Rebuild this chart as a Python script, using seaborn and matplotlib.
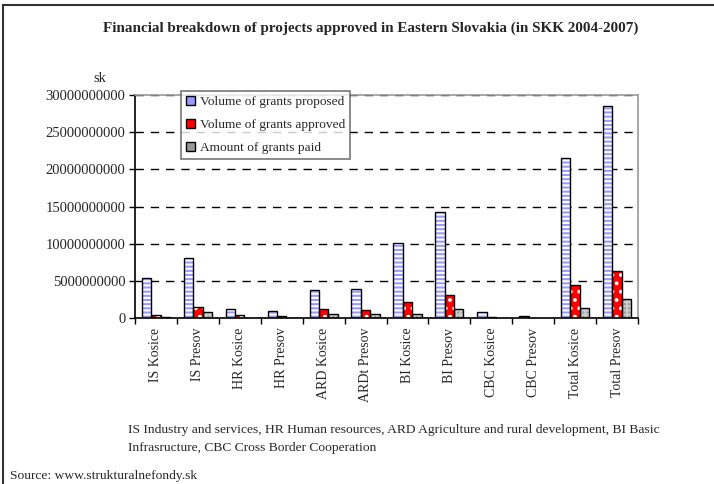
import pandas as pd
import seaborn as sns
import matplotlib.pyplot as plt
from matplotlib.patches import Patch, Rectangle
from matplotlib.ticker import MultipleLocator, FixedLocator

categories = ['IS Kosice', 'IS Presov', 'HR Kosice', 'HR Presov', 'ARD Kosice', 'ARDt Presov',
              'BI Kosice', 'BI Presov', 'CBC Kosice', 'CBC Presov', 'Total Kosice', 'Total Presov']
proposed = [5.35e9, 8.08e9, 1.27e9, 1.0e9, 3.72e9, 3.9e9, 10.08e9, 14.2e9, 0.8e9, 0.3e9, 21.5e9, 28.5e9]
approved = [0.45e9, 1.45e9, 0.45e9, 0.3e9, 1.27e9, 1.13e9, 2.13e9, 3.05e9, 0.1e9, 0.0, 4.5e9, 6.35e9]
paid = [0.1e9, 0.8e9, 0.0, 0.0, 0.5e9, 0.5e9, 0.5e9, 1.16e9, 0.0, 0.0, 1.35e9, 2.6e9]
series = ['Volume of grants proposed', 'Volume of grants approved', 'Amount of grants paid']

sns.set_style('white')
plt.rcParams['font.family'] = ['Liberation Serif', 'DejaVu Serif']
plt.rcParams['hatch.linewidth'] = 1.5

df = pd.DataFrame({
    'category': categories * 3,
    'series': [series[0]] * 12 + [series[1]] * 12 + [series[2]] * 12,
    'value': proposed + approved + paid,
})

face = {series[0]: '#9999FF', series[1]: '#FF0000', series[2]: '#999999'}
hatch_col = {series[0]: 'white', series[1]: 'white', series[2]: '#CCCCCC'}
hatches = {series[0]: '----', series[1]: '..', series[2]: '++++'}

fig = plt.figure(figsize=(7.14, 4.84), dpi=100)
ax = fig.add_axes([135 / 714, 1 - 318 / 484, 503 / 714, 223 / 484])

sns.barplot(data=df, x='category', y='value', hue='series', palette=face,
            width=0.67, ax=ax, legend=False, saturation=1)

# hatch colour follows edge colour, so draw outline on top separately
n = len(categories)
for i, p in enumerate(ax.patches[:3 * n]):
    s = series[i // n]
    p.set_hatch(hatches[s])
    p.set_edgecolor(hatch_col[s])
    p.set_linewidth(0)
    if p.get_height() > 0:
        ax.add_patch(Rectangle(p.get_xy(), p.get_width(), p.get_height(),
                               fill=False, edgecolor='black', linewidth=1.0, zorder=3))

ax.set_ylim(0, 30e9)
ax.set_xlim(-0.5, n - 0.5)
ax.yaxis.set_major_locator(MultipleLocator(5e9))
ax.ticklabel_format(style='plain', axis='y')
ax.yaxis.grid(True, color='black', linestyle=(0, (6, 5)), linewidth=1.0)
ax.set_axisbelow(True)
ax.set_xlabel('')
ax.set_ylabel('')

ax.tick_params(axis='y', direction='out', length=4, width=1, color='black',
               labelsize=10.5, pad=3, left=True)
ax.tick_params(axis='x', which='major', length=0, labelsize=10, pad=7)
ax.xaxis.set_minor_locator(FixedLocator([k - 0.5 for k in range(n + 1)]))
ax.tick_params(axis='x', which='minor', direction='out', length=4, width=1, color='black', bottom=True)
plt.setp(ax.get_xticklabels(), rotation=90, va='top', ha='center')

for side in ['left', 'bottom']:
    ax.spines[side].set_color('black')
    ax.spines[side].set_linewidth(1.2)
for side in ['top', 'right']:
    ax.spines[side].set_visible(True)
    ax.spines[side].set_color('#999999')
    ax.spines[side].set_linewidth(1.2)

handles = [Patch(facecolor=face[s], edgecolor='black', linewidth=1.0) for s in series]
leg = ax.legend(handles, series, loc='upper left', bbox_to_anchor=(181 / 714, 1 - 91 / 484),
                bbox_transform=fig.transFigure, fontsize=9.6, frameon=True, fancybox=False,
                edgecolor='#555555', handlelength=0.7, handleheight=0.7, handletextpad=0.4,
                labelspacing=0.8, borderpad=0.35, borderaxespad=0)
leg.get_frame().set_linewidth(1.2)
leg.set_zorder(5)

fig.text(371 / 714, 1 - 28 / 484,
         'Financial breakdown of projects approved in Eastern Slovakia (in SKK 2004-2007)',
         ha='center', va='center', fontsize=10.9, fontweight='bold')
fig.text(100 / 714, 1 - 78 / 484, 'sk', ha='center', va='center', fontsize=10.5)
fig.text(128 / 714, 1 - 430 / 484,
         'IS Industry and services, HR Human resources, ARD Agriculture and rural development, BI Basic',
         ha='left', va='center', fontsize=9.7)
fig.text(128 / 714, 1 - 448 / 484, 'Infrasructure, CBC Cross Border Cooperation',
         ha='left', va='center', fontsize=9.7)
fig.text(10 / 714, 1 - 476 / 484, 'Source: www.strukturalnefondy.sk',
         ha='left', va='center', fontsize=9.7)

# page frame (left and top edges visible)
fig.add_artist(Rectangle((3 / 714, -0.1), 1.2, 1.1 - 5 / 484, transform=fig.transFigure,
                         fill=False, edgecolor='#333333', linewidth=1.5))

fig.savefig('out.png', dpi=100, facecolor='white')
